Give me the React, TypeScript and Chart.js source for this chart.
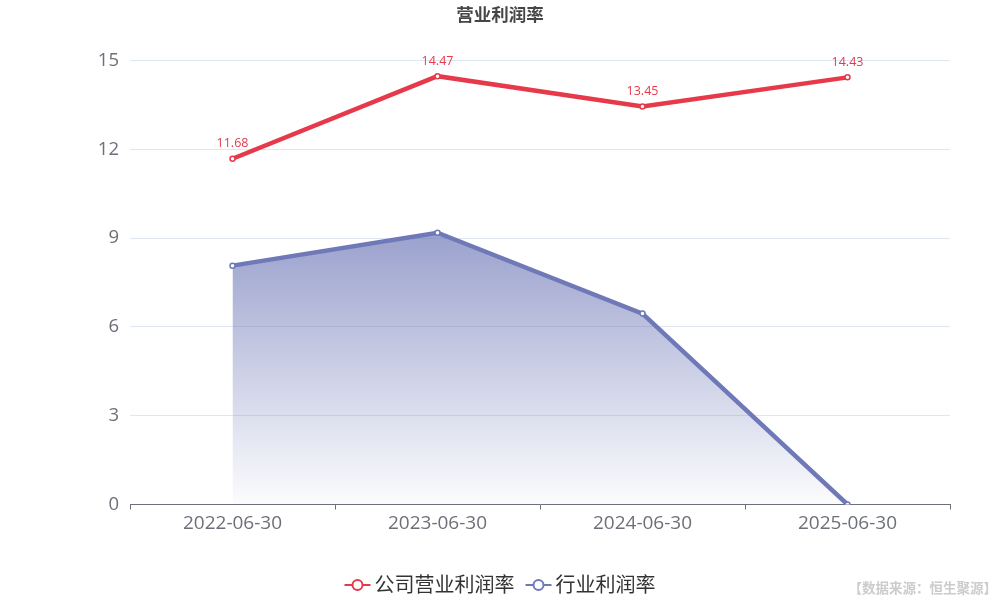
import { useEffect, useRef } from "react"
import { Chart, registerables } from "chart.js"

Chart.register(...registerables)

const chartTitle = "营业利润率"
const sourceNote = "【数据来源：恒生聚源】"
const categories = ["2022-06-30", "2023-06-30", "2024-06-30", "2025-06-30"]
const seriesNames = ["公司营业利润率", "行业利润率"]
const companyMargin = [11.68, 14.47, 13.45, 14.43]
const industryMargin = [8.07, 9.18, 6.45, 0]
const yTicks = [0, 3, 6, 9, 12, 15]

const RED = "#e63a4b"
const BLUE = "#6f79b8"
const AXIS = "#6e7079"
const FONT = '"Open Sans", "Noto Sans CJK SC", sans-serif'

// title, legend, source note and value labels
const overlayPlugin = {
  id: "overlay",
  afterDatasetsDraw(chart: Chart) {
    const ctx = chart.ctx
    const meta = chart.getDatasetMeta(0)
    ctx.save()
    ctx.font = `12.5px ${FONT}`
    ctx.fillStyle = RED
    ctx.textAlign = "center"
    ctx.textBaseline = "middle"
    meta.data.forEach((pt: any, i: number) => {
      ctx.fillText(companyMargin[i].toFixed(2), pt.x, pt.y - 15)
    })
    ctx.restore()
  },
  afterDraw(chart: Chart) {
    const ctx = chart.ctx
    ctx.save()
    // title
    ctx.font = `bold 17.5px ${FONT}`
    ctx.fillStyle = "#464646"
    ctx.textAlign = "center"
    ctx.textBaseline = "middle"
    ctx.fillText(chartTitle, 500, 16)

    // legend
    const colors = [RED, BLUE]
    ctx.font = `20px ${FONT}`
    const iconW = 26
    const gapIcon = 4
    const gapItem = 11
    const widths = seriesNames.map((n) => iconW + gapIcon + ctx.measureText(n).width)
    const total = widths.reduce((a, b) => a + b, 0) + gapItem * (widths.length - 1)
    let x = 500 - total / 2
    const y = 585
    seriesNames.forEach((name, i) => {
      ctx.strokeStyle = colors[i]
      ctx.lineWidth = 2
      ctx.beginPath()
      ctx.moveTo(x, y)
      ctx.lineTo(x + iconW, y)
      ctx.stroke()
      ctx.beginPath()
      ctx.arc(x + iconW / 2, y, 5, 0, Math.PI * 2)
      ctx.fillStyle = "#fff"
      ctx.fill()
      ctx.stroke()
      ctx.fillStyle = "#333"
      ctx.textAlign = "left"
      ctx.fillText(name, x + iconW + gapIcon, y + 1)
      x += widths[i] + gapItem
    })

    // source note
    ctx.font = `bold 13.5px ${FONT}`
    ctx.fillStyle = "#cccccc"
    ctx.textAlign = "right"
    ctx.fillText(sourceNote, 997, 589)
    ctx.restore()
  },
}

export default function App() {
  const canvasRef = useRef<HTMLCanvasElement>(null)
  const chartRef = useRef<Chart | null>(null)

  useEffect(() => {
    if (!canvasRef.current) return
    if (chartRef.current) chartRef.current.destroy()

    chartRef.current = new Chart(canvasRef.current, {
      type: "line",
      data: {
        labels: categories,
        datasets: [
          {
            label: seriesNames[0],
            data: companyMargin,
            borderColor: RED,
            borderWidth: 4.5,
            pointRadius: 2.5,
            pointBorderWidth: 1.5,
            pointBackgroundColor: "#fff",
            pointBorderColor: RED,
            tension: 0,
            fill: false,
          },
          {
            label: seriesNames[1],
            data: industryMargin,
            borderColor: BLUE,
            borderWidth: 4.5,
            pointRadius: 2.5,
            pointBorderWidth: 1.5,
            pointBackgroundColor: "#fff",
            pointBorderColor: BLUE,
            tension: 0,
            fill: "origin",
            backgroundColor: (context: any) => {
              const { chart } = context
              const { ctx, chartArea, scales } = chart
              if (!chartArea) return "rgba(111,121,184,0.4)"
              const top = scales.y.getPixelForValue(Math.max(...industryMargin))
              const g = ctx.createLinearGradient(0, top, 0, chartArea.bottom)
              g.addColorStop(0, "rgba(111,121,184,0.7)")
              g.addColorStop(1, "rgba(111,121,184,0.02)")
              return g
            },
          },
        ],
      },
      options: {
        responsive: true,
        maintainAspectRatio: false,
        animation: false,
        layout: { padding: { left: 0, right: 50, top: 60.5, bottom: 0 } },
        plugins: {
          legend: { display: false },
          title: { display: false },
          tooltip: { enabled: false },
        },
        scales: {
          x: {
            type: "category",
            offset: true,
            afterFit: (scale: any) => {
              scale.height = 95.5
            },
            grid: {
              offset: true,
              drawOnChartArea: false,
              drawTicks: true,
              tickLength: 5,
              color: AXIS,
            },
            border: { display: true, color: AXIS, width: 1 },
            ticks: {
              color: AXIS,
              font: { family: FONT, size: 19 },
              padding: 3,
              maxRotation: 0,
            },
          },
          y: {
            min: 0,
            max: 15,
            afterFit: (scale: any) => {
              scale.width = 130
            },
            afterBuildTicks: (scale: any) => {
              scale.ticks = yTicks.map((v) => ({ value: v }))
            },
            grid: { color: "#e0e6f1", drawTicks: false, lineWidth: 1 },
            border: { display: false },
            ticks: {
              color: AXIS,
              font: { family: FONT, size: 18.5 },
              padding: 11,
            },
          },
        },
      },
      plugins: [overlayPlugin],
    })

    return () => {
      if (chartRef.current) {
        chartRef.current.destroy()
        chartRef.current = null
      }
    }
  }, [])

  return (
    <div style={{ position: "fixed", left: 0, top: 0, width: 1000, height: 600, background: "#fff" }}>
      <canvas ref={canvasRef} />
    </div>
  )
}
